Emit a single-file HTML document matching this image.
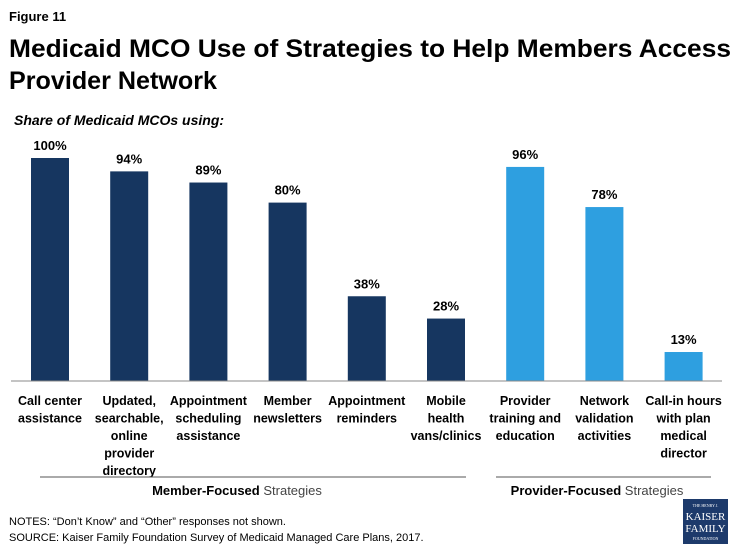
<!DOCTYPE html>
<html><head><meta charset="utf-8"><style>
body{margin:0;background:#fff;width:735px;height:551px;overflow:hidden;font-family:"Liberation Sans",sans-serif;}
</style></head><body>
<svg width="735" height="551" xmlns="http://www.w3.org/2000/svg" font-family="Liberation Sans, sans-serif">
<text x="9" y="21" font-size="13" font-weight="bold" fill="#000">Figure 11</text>
<text x="9" y="57" font-size="25" font-weight="bold" fill="#000" textLength="722" lengthAdjust="spacingAndGlyphs">Medicaid MCO Use of Strategies to Help Members Access</text>
<text x="9" y="89" font-size="25" font-weight="bold" fill="#000" textLength="208" lengthAdjust="spacingAndGlyphs">Provider Network</text>
<text x="14" y="125" font-size="14" font-weight="bold" font-style="italic" fill="#000">Share of Medicaid MCOs using:</text>
<g id="bars"></g>
<line x1="11" y1="381" x2="722" y2="381" stroke="#888" stroke-width="1"/>
<line x1="40" y1="477" x2="466" y2="477" stroke="#555" stroke-width="1"/>
<line x1="496" y1="477" x2="711" y2="477" stroke="#555" stroke-width="1"/>
<text x="237" y="495" font-size="13" text-anchor="middle"><tspan font-weight="bold">Member-Focused</tspan><tspan fill="#444"> Strategies</tspan></text>
<text x="597" y="495" font-size="13" text-anchor="middle"><tspan font-weight="bold">Provider-Focused</tspan><tspan fill="#444"> Strategies</tspan></text>
<text x="9" y="525" font-size="11" fill="#000">NOTES: “Don’t Know” and “Other” responses not shown.</text>
<text x="9" y="541" font-size="11" fill="#000">SOURCE: Kaiser Family Foundation Survey of Medicaid Managed Care Plans, 2017.</text>
<g>
<rect x="683" y="499" width="45" height="45" fill="#1d3a6b"/>
<text x="705.5" y="507" font-size="4" fill="#fff" text-anchor="middle" font-family="Liberation Serif, serif">THE HENRY J.</text>
<text x="705.5" y="520" font-size="11" fill="#fff" text-anchor="middle" font-family="Liberation Serif, serif">KAISER</text>
<text x="705.5" y="532" font-size="11" fill="#fff" text-anchor="middle" font-family="Liberation Serif, serif">FAMILY</text>
<text x="705.5" y="540" font-size="4" fill="#fff" text-anchor="middle" font-family="Liberation Serif, serif">FOUNDATION</text>
</g>
</svg>
<script>
const categories=[["Call center","assistance"],["Updated,","searchable,","online","provider","directory"],["Appointment","scheduling","assistance"],["Member","newsletters"],["Appointment","reminders"],["Mobile","health","vans/clinics"],["Provider","training and","education"],["Network","validation","activities"],["Call-in hours","with plan","medical","director"]];
const values=[100,94,89,80,38,28,96,78,13];
const groups=["member","member","member","member","member","member","provider","provider","provider"];
const colors={member:"#163660",provider:"#2e9fe0"};
const baseY=381, plotH=223, x0=50, step=79.2, bw=38;
const y=v=>baseY-v/100*plotH;
const xc=i=>x0+i*step;
const g=document.getElementById('bars');
const NS="http://www.w3.org/2000/svg";
values.forEach((v,i)=>{
  const r=document.createElementNS(NS,'rect');
  r.setAttribute('x',xc(i)-bw/2);r.setAttribute('y',y(v));
  r.setAttribute('width',bw);r.setAttribute('height',baseY-y(v));
  r.setAttribute('fill',colors[groups[i]]);
  
  
  g.appendChild(r);
  const t=document.createElementNS(NS,'text');
  t.setAttribute('x',xc(i));t.setAttribute('y',y(v)-8);
  t.setAttribute('text-anchor','middle');t.setAttribute('font-size','13');t.setAttribute('font-weight','bold');
  t.textContent=v+'%';
  
  
  g.appendChild(t);
  categories[i].forEach((line,j)=>{
    const c=document.createElementNS(NS,'text');
    c.setAttribute('x',xc(i));c.setAttribute('y',405+j*17.5);
    c.setAttribute('text-anchor','middle');c.setAttribute('font-size','12.5');c.setAttribute('font-weight','bold');
    c.textContent=line;
    
    
    g.appendChild(c);
  });
});
</script>
</body></html>
